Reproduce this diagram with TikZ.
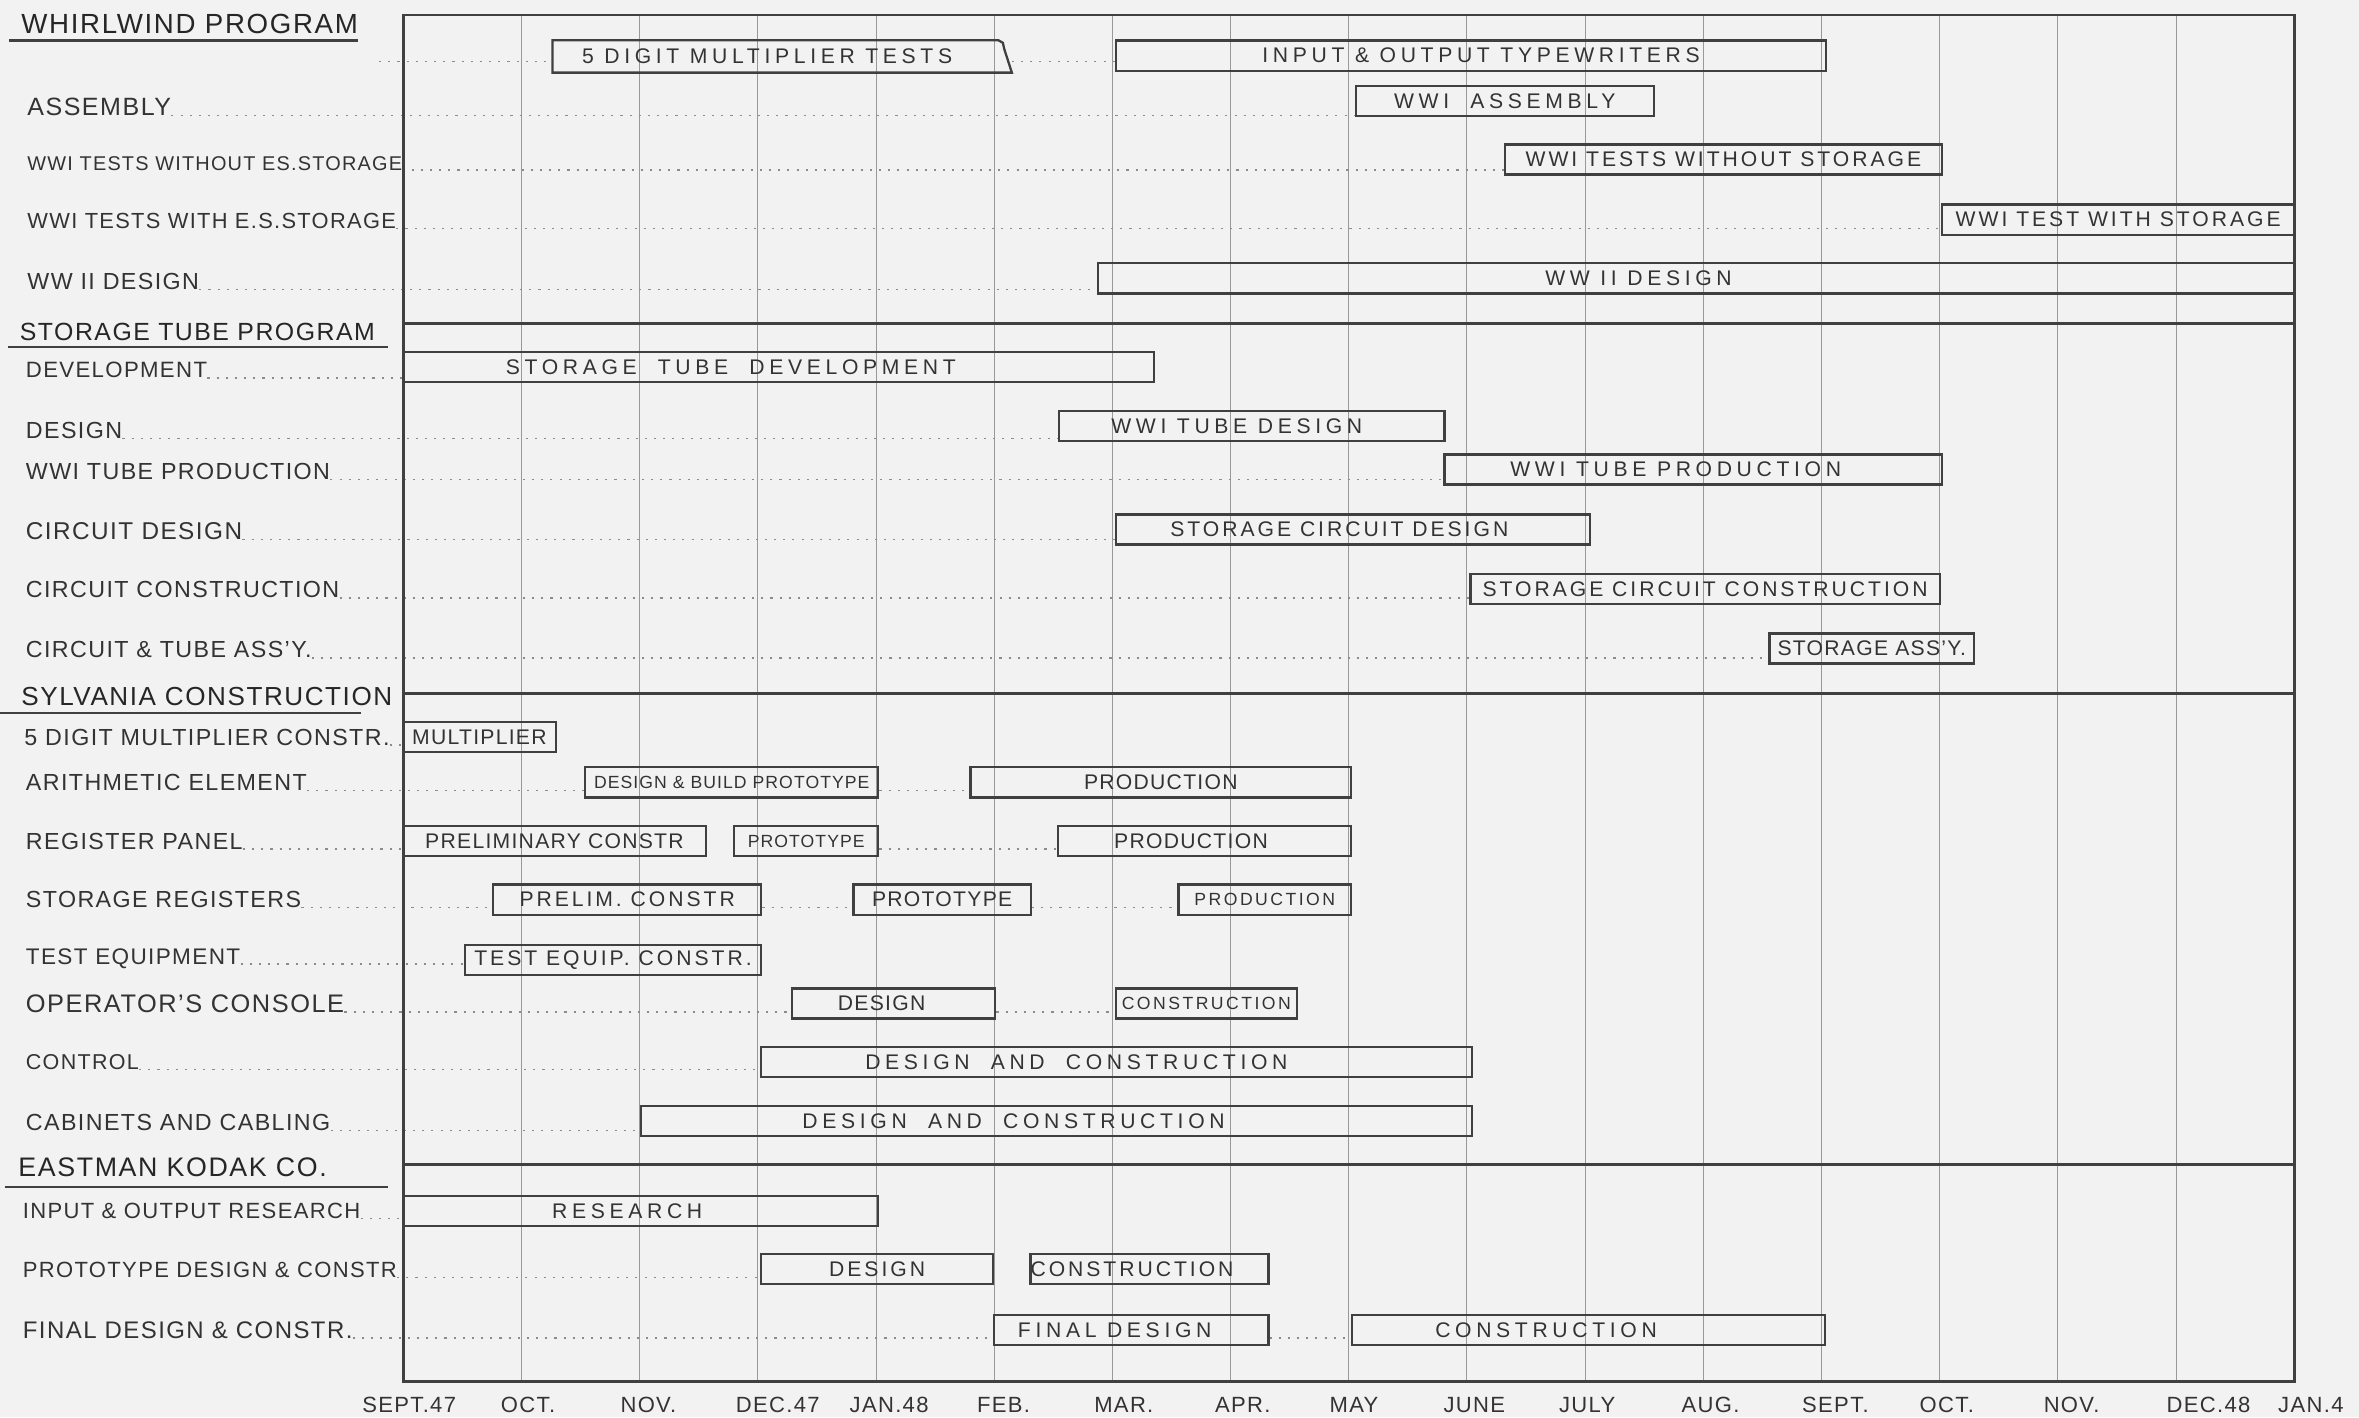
\documentclass[tikz,border=0pt]{standalone}
\usepackage{fontspec}
\setmainfont[LetterSpace=6]{Liberation Sans}
\newfontfamily\medfont[LetterSpace=14]{Liberation Sans}
\newfontfamily\widefont[LetterSpace=22]{Liberation Sans}
\usetikzlibrary{backgrounds}

\newcommand\fs[1]{\fontsize{#1}{#1}\selectfont}
% blank kept after the text of a bar, to move the text to the left
\newcommand\pad[1]{\hspace*{#1}\mbox{}}
% month m of the chart sits at x = 268 + 78.56 m
\newcommand\task[6][]{%
  \node[taskbox,#1,minimum width={(#4-#3)*23.568mm}] (#2) at ({268+39.28*(#3+#4)},#5) {#6};}

\tikzset{
  rowlabel/.style={anchor=west,inner sep=0pt,text=black!80,font=\fs{13.2}},
  header/.style={anchor=west,inner sep=0pt,text=black!85,font=\fs{15.2}},
  taskbox/.style={draw=black!75,line width=1.3pt,inner sep=0pt,minimum height=6mm,
    text=black!80,font=\fs{12}},
  medtask/.style={font=\medfont\fs{12}},
  widetask/.style={font=\widefont\fs{12}},
  smalltask/.style={font=\fs{10}},
  smallmed/.style={font=\medfont\fs{10}},
  leader/.style={black!45,line width=0.9pt,dash pattern=on 1.2pt off 4pt},
  gridline/.style={black!40,line width=0.5pt},
  border/.style={black!75,line width=1.6pt},
  uline/.style={black!75,line width=1.4pt},
  month/.style={inner sep=0pt,text=black!80,font=\fs{12.5}}
}

\begin{document}
\begin{tikzpicture}[x=0.3mm,y=-0.3mm]
\useasboundingbox (0,0) rectangle (1568,942);

% headers
\node[header,font=\fs{15.7}] (hWhirl) at (14,16) {WHIRLWIND PROGRAM};
\node[header,font=\fs{14.1}] (hTube) at (13,220.5) {STORAGE TUBE PROGRAM};
\node[header,font=\fs{14.8}] (hSylv) at (14,463) {SYLVANIA CONSTRUCTION};
\node[header] (hKodak) at (12,776) {EASTMAN KODAK CO.};
\draw[uline] (6,27) -- (238,27) (5,230.5) -- (258,230.5)
  (0,474) -- (240,474) (3,789) -- (258,789);

% row labels
\node[rowlabel,font=\fs{14.2}] (lAsm) at (18,71) {ASSEMBLY};
\node[rowlabel,font=\fs{11.3}] (lTestsWo) at (18,108.6) {WWI TESTS WITHOUT ES.STORAGE};
\node[rowlabel,font=\fs{12.4}] (lTestsW) at (18,147) {WWI TESTS WITH E.S.STORAGE};
\node[rowlabel] (lWW2) at (18,187) {WW II DESIGN};
\node[rowlabel,font=\fs{12.6}] (lDev) at (17,246) {DEVELOPMENT};
\node[rowlabel] (lTubeDes) at (17,286) {DESIGN};
\node[rowlabel] (lTubeProd) at (17,313.5) {WWI TUBE PRODUCTION};
\node[rowlabel,font=\fs{13.8}] (lCircDes) at (17,353) {CIRCUIT DESIGN};
\node[rowlabel] (lCircCon) at (17,392) {CIRCUIT CONSTRUCTION};
\node[rowlabel] (lAssy) at (17,432) {CIRCUIT \& TUBE ASS'Y.};
\node[rowlabel] (lMult) at (16,490) {5 DIGIT MULTIPLIER CONSTR.};
\node[rowlabel] (lArith) at (17,520) {ARITHMETIC ELEMENT};
\node[rowlabel] (lReg) at (17,559) {REGISTER PANEL};
\node[rowlabel] (lSreg) at (17,598) {STORAGE REGISTERS};
\node[rowlabel,font=\fs{12.8}] (lTest) at (17,637) {TEST EQUIPMENT};
\node[rowlabel,font=\fs{14.4}] (lCons) at (17,667) {OPERATOR'S CONSOLE};
\node[rowlabel,font=\fs{12.2}] (lCtrl) at (17,706) {CONTROL};
\node[rowlabel] (lCab) at (17,746) {CABINETS AND CABLING};
\node[rowlabel,font=\fs{12.5}] (lRes) at (15,805) {INPUT \& OUTPUT RESEARCH};
\node[rowlabel,font=\fs{12.5}] (lProto) at (15,844) {PROTOTYPE DESIGN \& CONSTR};
\node[rowlabel,font=\fs{13.6}] (lFinal) at (15,884) {FINAL DESIGN \& CONSTR.};

% bars: name, from month, to month, y
\task[widetask,draw=none]{mulTests}{1.273}{5.14}{37.5}{5 DIGIT MULTIPLIER\enspace TESTS\pad{6mm}}
\draw[black!75,line width=1.3pt] (mulTests.south east) -- ([xshift=-1.5mm,yshift=-1.8mm]mulTests.north east)
  -- ([xshift=-1.8mm,yshift=-0.5mm]mulTests.north east) -- ([xshift=-2.7mm]mulTests.north east)
  -- (mulTests.north west) -- (mulTests.south west) -- cycle;
\task[widetask]{ioType}{6.03}{12.04}{37}{\hspace*{4mm}INPUT \& OUTPUT\enspace TYPEWRITERS}
\task[widetask]{wwiAsm}{8.06}{10.58}{67}{WWI\quad ASSEMBLY}
\task[medtask]{testsWo}{9.32}{13.02}{106}{WWI TESTS WITHOUT STORAGE}
\task[medtask]{testsW}{13.02}{16}{146}{WWI TEST WITH STORAGE}
\task[widetask]{ww2}{5.88}{16}{185}{WW II\enspace DESIGN\pad{23mm}}
\task[widetask]{dev}{0}{6.35}{244}{STORAGE\quad TUBE\quad DEVELOPMENT\pad{19mm}}
\task[widetask]{tubeDes}{5.55}{8.81}{283}{WWI TUBE DESIGN\pad{6mm}}
\task[widetask]{tubeProd}{8.81}{13.02}{312}{WWI\enspace TUBE\enspace PRODUCTION\pad{7mm}}
\task[medtask]{circDes}{6.03}{10.04}{352}{STORAGE CIRCUIT DESIGN\pad{5.4mm}}
\task[medtask]{circCon}{9.03}{13.0}{391.5}{STORAGE CIRCUIT CONSTRUCTION}
\task{assy}{11.56}{13.29}{431}{STORAGE ASS'Y.}
\task{mult}{0}{1.29}{490}{MULTIPLIER}
\task[smalltask]{arithA}{1.54}{4.02}{520}{DESIGN \& BUILD PROTOTYPE}
\task{arithB}{4.80}{8.02}{520}{PRODUCTION}
\task{regA}{0}{2.56}{559}{PRELIMINARY CONSTR}
\task[smalltask]{regB}{2.80}{4.02}{559}{PROTOTYPE}
\task{regC}{5.54}{8.02}{559}{PRODUCTION\pad{5.4mm}}
\task[medtask]{sregA}{0.76}{3.03}{598}{PRELIM. CONSTR}
\task{sregB}{3.81}{5.31}{598}{PROTOTYPE}
\task[smallmed]{sregC}{6.56}{8.02}{598}{PRODUCTION}
\task[medtask]{testEq}{0.52}{3.03}{638}{TEST EQUIP. CONSTR.}
\task{consA}{3.29}{5.01}{667}{DESIGN\pad{4.8mm}}
\task[smallmed]{consB}{6.03}{7.56}{667}{CONSTRUCTION}
\task[widetask]{ctrl}{3.03}{9.04}{706}{DESIGN\quad AND\quad CONSTRUCTION\pad{16mm}}
\task[widetask]{cab}{2.01}{9.04}{745}{DESIGN\quad AND\quad CONSTRUCTION\pad{17mm}}
\task[widetask]{res}{0}{4.02}{805}{RESEARCH\pad{5.4mm}}
\task[medtask]{protoA}{3.03}{4.99}{843.5}{DESIGN}
\task[medtask]{protoB}{5.31}{7.32}{843.5}{CONSTRUCTION\pad{7mm}}
\task[widetask]{finalA}{5.0}{7.32}{884}{FINAL DESIGN\pad{6.6mm}}
\task[widetask]{finalB}{8.03}{12.03}{884}{CONSTRUCTION\pad{17mm}}

% frame and section lines
\draw[border] (268,10) rectangle (1525,918);
\draw[border] (268,215) -- (1525,215) (268,461) -- (1525,461) (268,774) -- (1525,774);

% month scale
\foreach \x/\t [count=\i] in {272/SEPT.47,351/OCT.,431/NOV.,517/DEC.47,591/JAN.48,
  667/FEB.,747/MAR.,826/APR.,900/MAY,980/JUNE,1055/JULY,1137/AUG.,1220/SEPT.,
  1294/OCT.,1377/NOV.,1468/DEC.48,1536/JAN.4}
  \node[month] (mon\i) at (\x,934) {\t};

\begin{scope}[on background layer]
\fill[black!5] (0,0) rectangle (1568,942);
\foreach \m in {1,...,15}
  \draw[gridline] ({268+78.56*\m},10) -- ({268+78.56*\m},918);
% dotted leaders from the row names
\coordinate (r1) at (252,41);
\draw[leader] (r1) -- (mulTests.west |- r1) (mulTests.east |- r1) -- (ioType.west |- r1);
\draw[leader] (lAsm.base east) -- (wwiAsm.west |- lAsm.base east);
\draw[leader] (lTestsWo.base east) -- (testsWo.west |- lTestsWo.base east);
\draw[leader] (lTestsW.base east) -- (testsW.west |- lTestsW.base east);
\draw[leader] (lWW2.base east) -- (ww2.west |- lWW2.base east);
\draw[leader] (lDev.base east) -- (dev.west |- lDev.base east);
\draw[leader] (lTubeDes.base east) -- (tubeDes.west |- lTubeDes.base east);
\draw[leader] (lTubeProd.base east) -- (tubeProd.west |- lTubeProd.base east);
\draw[leader] (lCircDes.base east) -- (circDes.west |- lCircDes.base east);
\draw[leader] (lCircCon.base east) -- (circCon.west |- lCircCon.base east);
\draw[leader] (lAssy.base east) -- (assy.west |- lAssy.base east);
\draw[leader] (lMult.base east) -- (mult.west |- lMult.base east);
\draw[leader] (lArith.base east) -- (arithA.west |- lArith.base east)
  (arithA.east |- lArith.base east) -- (arithB.west |- lArith.base east);
\draw[leader] (lReg.base east) -- (regA.west |- lReg.base east)
  (regB.east |- lReg.base east) -- (regC.west |- lReg.base east);
\draw[leader] (lSreg.base east) -- (sregA.west |- lSreg.base east)
  (sregA.east |- lSreg.base east) -- (sregB.west |- lSreg.base east)
  (sregB.east |- lSreg.base east) -- (sregC.west |- lSreg.base east);
\draw[leader] (lTest.base east) -- (testEq.west |- lTest.base east);
\draw[leader] (lCons.base east) -- (consA.west |- lCons.base east)
  (consA.east |- lCons.base east) -- (consB.west |- lCons.base east);
\draw[leader] (lCtrl.base east) -- (ctrl.west |- lCtrl.base east);
\draw[leader] (lCab.base east) -- (cab.west |- lCab.base east);
\draw[leader] (lRes.base east) -- (res.west |- lRes.base east);
\draw[leader] (lProto.base east) -- (protoA.west |- lProto.base east);
\draw[leader] (lFinal.base east) -- (finalA.west |- lFinal.base east)
  (finalA.east |- lFinal.base east) -- (finalB.west |- lFinal.base east);
\end{scope}
\end{tikzpicture}
\end{document}
